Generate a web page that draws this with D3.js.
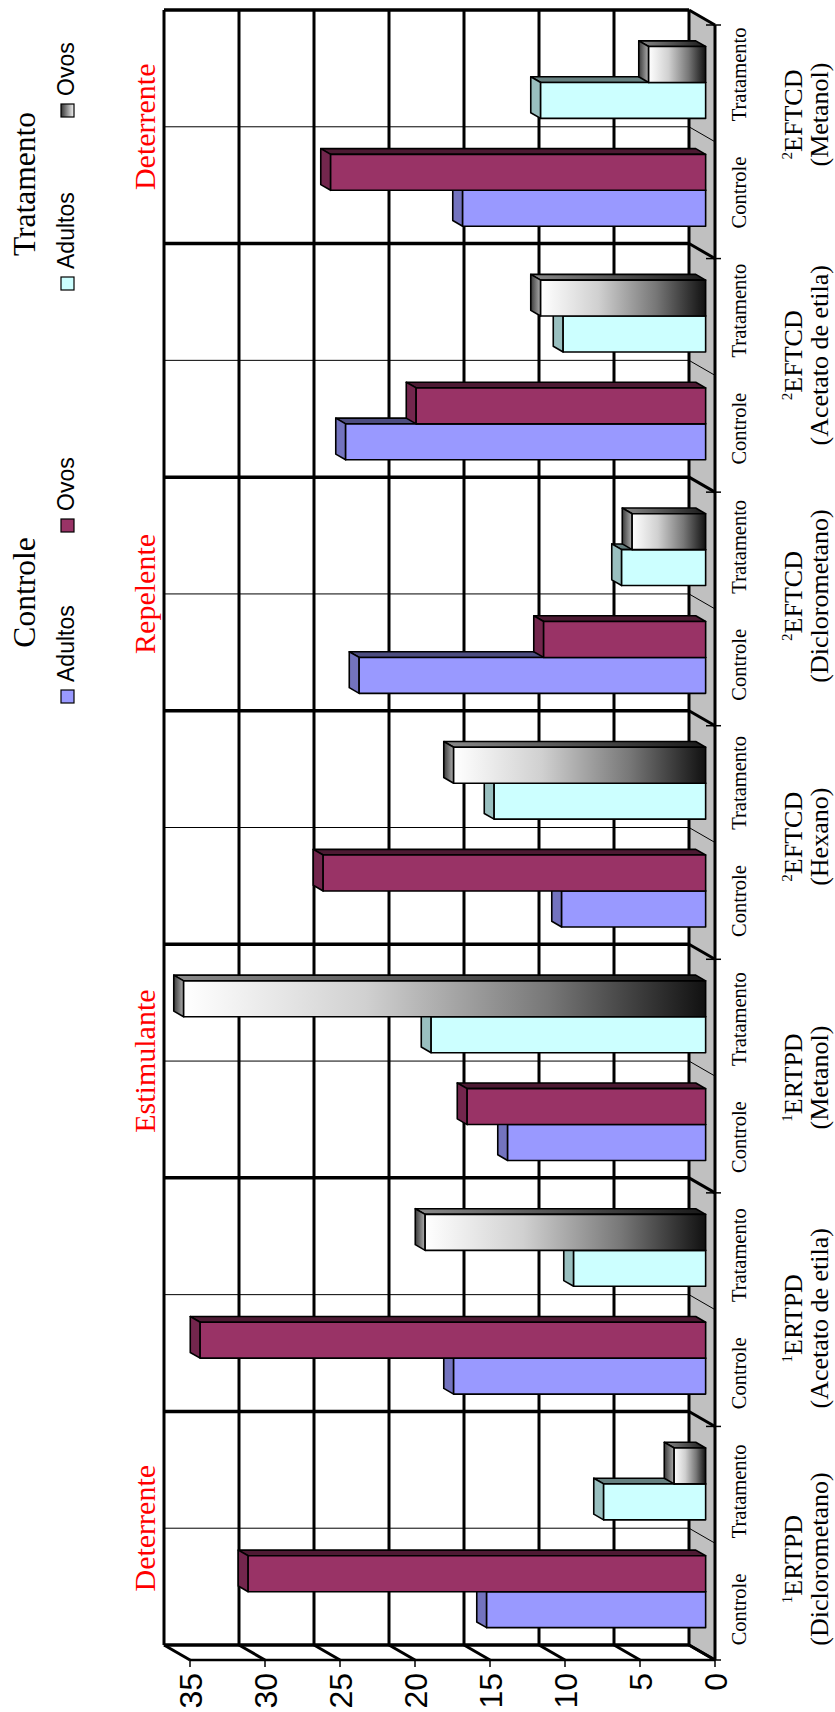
<!DOCTYPE html>
<html>
<head>
<meta charset="utf-8">
<script src="https://cdn.jsdelivr.net/npm/d3@7"></script>
<style>
  body { margin: 0; background: #fff; }
  svg { display: block; }
</style>
</head>
<body>
<svg id="chart" width="835" height="1712"></svg>
<script>
// data (values in the same units as the axis)
var groupCodes = ["ERTPD", "ERTPD", "ERTPD", "EFTCD", "EFTCD", "EFTCD", "EFTCD"];
var groupSups = ["1", "1", "1", "2", "2", "2", "2"];
var groupSolvents = ["(Diclorometano)", "(Acetato de etila)", "(Metanol)", "(Hexano)",
                     "(Diclorometano)", "(Acetato de etila)", "(Metanol)"];
var subCategories = ["Controle", "Tratamento"];
var effects = ["Deterrente", "", "Estimulante", "", "Repelente", "", "Deterrente"];

var adultosControle   = [14.6, 16.8, 13.2, 9.6, 23.1, 24.0, 16.2];
var ovosControle      = [30.5, 33.7, 15.9, 25.5, 10.8, 19.3, 25.0];
var adultosTratamento = [6.8, 8.8, 18.3, 14.1, 5.6, 9.5, 11.0];
var ovosTratamento    = [2.1, 18.7, 34.8, 16.8, 4.9, 11.0, 3.8];

var valueTicks = [0, 5, 10, 15, 20, 25, 30, 35];

var series = [
  {key: "C-A", sub: "Controle",   name: "Adultos", values: adultosControle,   front: "#9999FF", top: "#7373BF", side: "#4D4D80"},
  {key: "C-O", sub: "Controle",   name: "Ovos",    values: ovosControle,      front: "#993366", top: "#73264D", side: "#4D1A33"},
  {key: "T-A", sub: "Tratamento", name: "Adultos", values: adultosTratamento, front: "#CCFFFF", top: "#99BFBF", side: "#668080"},
  {key: "T-O", sub: "Tratamento", name: "Ovos",    values: ovosTratamento,    front: "url(#gFront)", top: "url(#gTop)", side: "url(#gSide)"}
];
var slots = ["C-A", "C-O", "gap", "T-A", "T-O"];

var serif = "'Liberation Serif','Times New Roman',serif";
var sans = "'Liberation Sans',Arial,sans-serif";

// the chart is drawn upright in a 1712 x 835 frame, then turned a quarter turn
var W = 1712, H = 835;
var svg = d3.select("#chart");

var defs = svg.append("defs");
function grad(id, stops) {
  var g = defs.append("linearGradient").attr("id", id)
    .attr("x1", 0).attr("y1", 0).attr("x2", 0).attr("y2", 1);
  stops.forEach(function(s) {
    g.append("stop").attr("offset", s[0]).attr("stop-color", s[1]);
  });
}
grad("gFront", [[0, "#ffffff"], [0.35, "#d0d0d0"], [0.7, "#777777"], [1, "#111111"]]);
grad("gTop", [[0, "#3a3a3a"], [1, "#b0b0b0"]]);
grad("gSide", [[0, "#8a8a8a"], [1, "#1a1a1a"]]);
grad("gLegend", [[0, "#333333"], [1, "#f4f4f4"]]);

var g = svg.append("g").attr("transform", "translate(0," + W + ") rotate(-90)");

var x0 = d3.scaleBand().domain(d3.range(groupCodes.length)).range([67, 1702]);
var xs = d3.scaleBand().domain(slots).range([0, x0.bandwidth()]).paddingOuter(0.75);
var xSub = d3.scaleBand().domain(subCategories).range([0, x0.bandwidth()]);
var y = d3.scaleLinear().domain([0, 35]).range([689, 164]);

// depth of the box (back wall -> front edge)
var D = {x: -15, y: 26};
var f0 = 0.26, f1 = 0.64; // bar back / front depth
function P(x, v, f) { return [x + D.x * f, y(v) + D.y * f]; }
function poly(pts) { return pts.map(function(p) { return p.join(","); }).join(" "); }

var xL = x0.range()[0], xR = x0.range()[1];

// back wall
g.append("rect").attr("x", xL).attr("y", y(35)).attr("width", xR - xL).attr("height", y(0) - y(35))
  .attr("fill", "#fff");
// floor
g.append("polygon").attr("points", poly([P(xL, 0, 0), P(xR, 0, 0), P(xR, 0, 1), P(xL, 0, 1)]))
  .attr("fill", "#C0C0C0");

// value gridlines on back wall and side wall
valueTicks.forEach(function(v) {
  g.append("line").attr("x1", xL).attr("x2", xR).attr("y1", y(v)).attr("y2", y(v))
    .attr("stroke", "#000").attr("stroke-width", 3);
  var a = P(xL, v, 0), b = P(xL, v, 1);
  g.append("line").attr("x1", a[0]).attr("y1", a[1]).attr("x2", b[0]).attr("y2", b[1])
    .attr("stroke", "#000").attr("stroke-width", 3);
});

// category separators: thick between groups, thin between Controle/Tratamento
var bounds = d3.range(groupCodes.length + 1).map(function(i) { return xL + i * x0.step(); });
bounds.forEach(function(bx) {
  g.append("line").attr("x1", bx).attr("x2", bx).attr("y1", y(35)).attr("y2", y(0))
    .attr("stroke", "#000").attr("stroke-width", 3.5);
  var a = P(bx, 0, 0), b = P(bx, 0, 1);
  g.append("line").attr("x1", a[0]).attr("y1", a[1]).attr("x2", b[0]).attr("y2", b[1])
    .attr("stroke", "#000").attr("stroke-width", 3);
  g.append("line").attr("x1", b[0]).attr("x2", b[0]).attr("y1", b[1] - 9).attr("y2", b[1] + 6)
    .attr("stroke", "#000").attr("stroke-width", 1.5);
});
groupCodes.forEach(function(c, i) {
  var mx = x0(i) + xSub("Tratamento");
  g.append("line").attr("x1", mx).attr("x2", mx).attr("y1", y(35)).attr("y2", y(0))
    .attr("stroke", "#000").attr("stroke-width", 1);
  var a = P(mx, 0, 0), b = P(mx, 0, 1);
  g.append("line").attr("x1", a[0]).attr("y1", a[1]).attr("x2", b[0]).attr("y2", b[1])
    .attr("stroke", "#000").attr("stroke-width", 1);
});

// front axes
var fa = P(xL, 0, 1), fb = P(xR, 0, 1), fc = P(xL, 35, 1);
g.append("line").attr("x1", fa[0]).attr("y1", fa[1]).attr("x2", fb[0]).attr("y2", fb[1])
  .attr("stroke", "#000").attr("stroke-width", 3);
g.append("line").attr("x1", fa[0]).attr("y1", fa[1]).attr("x2", fc[0]).attr("y2", fc[1])
  .attr("stroke", "#000").attr("stroke-width", 2.5);

// value labels
valueTicks.forEach(function(v) {
  var p = P(xL, v, 1);
  g.append("line").attr("x1", p[0]).attr("x2", p[0] - 7).attr("y1", p[1]).attr("y2", p[1])
    .attr("stroke", "#000").attr("stroke-width", 1.5);
  g.append("text").attr("x", 39).attr("y", p[1]).attr("dy", "0.36em")
    .attr("text-anchor", "end").attr("font-family", sans).attr("font-size", 32)
    .text(v);
});

// bars, left to right so the right neighbour covers the side face
var bars = [];
groupCodes.forEach(function(c, i) {
  series.forEach(function(s) {
    bars.push({x: x0(i) + xs(s.key), w: xs.bandwidth(), v: s.values[i], s: s});
  });
});
var bar = g.selectAll("g.bar").data(bars).enter().append("g").attr("class", "bar");
bar.append("polygon")
  .attr("points", function(d) { return poly([P(d.x + d.w, 0, f1), P(d.x + d.w, 0, f0), P(d.x + d.w, d.v, f0), P(d.x + d.w, d.v, f1)]); })
  .attr("fill", function(d) { return d.s.side; });
bar.append("polygon")
  .attr("points", function(d) { return poly([P(d.x, d.v, f1), P(d.x + d.w, d.v, f1), P(d.x + d.w, d.v, f0), P(d.x, d.v, f0)]); })
  .attr("fill", function(d) { return d.s.top; });
bar.append("polygon")
  .attr("points", function(d) { return poly([P(d.x, 0, f1), P(d.x + d.w, 0, f1), P(d.x + d.w, d.v, f1), P(d.x, d.v, f1)]); })
  .attr("fill", function(d) { return d.s.front; });
bar.selectAll("polygon").attr("stroke", "#000").attr("stroke-width", 1.6).attr("stroke-linejoin", "round");

// sub category labels
var xLab = d3.scaleBand().domain(d3.range(groupCodes.length * 2)).range([43.5, 1696.6]);
d3.range(groupCodes.length * 2).forEach(function(k) {
  g.append("text").attr("x", xLab(k) + xLab.bandwidth() / 2).attr("y", 746)
    .attr("text-anchor", "middle").attr("font-family", serif).attr("font-size", 20.5)
    .text(subCategories[k % 2]);
});

// group labels
var xGrp = d3.scaleBand().domain(d3.range(groupCodes.length)).range([32.6, 1717.9]);
groupCodes.forEach(function(c, i) {
  var cx = xGrp(i) + xGrp.bandwidth() / 2;
  var t = g.append("text").attr("x", cx).attr("y", 802).attr("text-anchor", "middle")
    .attr("font-family", serif).attr("font-size", 26);
  t.append("tspan").attr("font-size", 15).attr("dy", -10).text(groupSups[i]);
  t.append("tspan").attr("dy", 10).text(c);
  g.append("text").attr("x", cx).attr("y", 828).attr("text-anchor", "middle")
    .attr("font-family", serif).attr("font-size", 26).text(groupSolvents[i]);
});

// effect labels in red
effects.forEach(function(e, i) {
  if (!e) return;
  g.append("text").attr("x", x0(i) + x0.bandwidth() / 2).attr("y", 155)
    .attr("text-anchor", "middle").attr("font-family", serif).attr("font-size", 30)
    .attr("fill", "#FF0000").text(e);
});

// legends
var legends = [
  {title: "Controle", cx: 1119.5, items: [{x: 1009, name: "Adultos", fill: "#9999FF"}, {x: 1180, name: "Ovos", fill: "#993366"}]},
  {title: "Tratamento", cx: 1528, items: [{x: 1422, name: "Adultos", fill: "#CCFFFF"}, {x: 1595, name: "Ovos", fill: "url(#gLegend)"}]}
];
legends.forEach(function(L) {
  g.append("text").attr("x", L.cx).attr("y", 35).attr("text-anchor", "middle")
    .attr("font-family", serif).attr("font-size", 31.5).text(L.title);
  L.items.forEach(function(it) {
    g.append("rect").attr("x", it.x).attr("y", 61).attr("width", 13).attr("height", 13)
      .attr("fill", it.fill).attr("stroke", "#000").attr("stroke-width", 1.2);
    g.append("text").attr("x", it.x + 21).attr("y", 74)
      .attr("font-family", sans).attr("font-size", 23).text(it.name);
  });
});
</script>
</body>
</html>
